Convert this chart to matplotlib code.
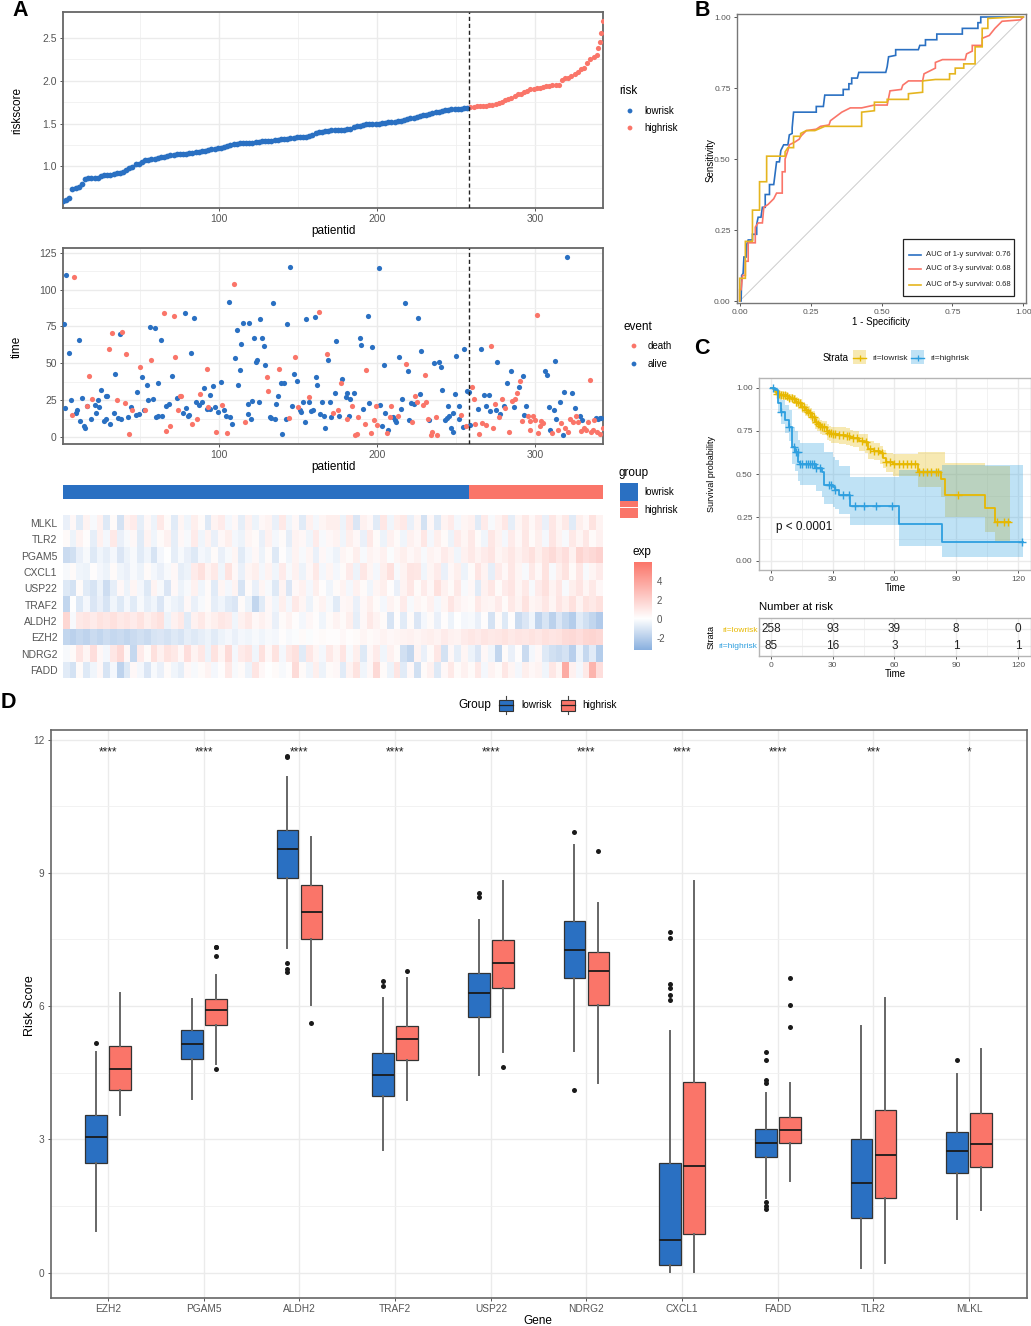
#!/usr/bin/env python3
"""Risk model figure: risk curve, survival scatter, heatmap, ROC, KM and gene boxplots."""

import matplotlib
matplotlib.use("Agg")
import matplotlib.pyplot as plt
import numpy as np
from matplotlib.colors import LinearSegmentedColormap
from matplotlib.patches import Rectangle

plt.rcParams['font.family'] = ['Liberation Sans', 'DejaVu Sans']
plt.rcParams['axes.unicode_minus'] = False

BLUE = '#2A70C2'
SALMON = '#FA7569'
KM_YELLOW = '#E7B800'
KM_BLUE = '#2E9FDF'
TICK_GRAY = '#555555'
W, H = 1031, 1326

N_LOW, N_HIGH = 258, 85

# Panel A, risk score read every second patient (patients 1, 3, 5 ... 335), then the last stretch
RISK_SCORE = [
    .60, .61, .63, .74, .745, .76, .80, .855, .86, .86,
    .87, .87, .885, .895, .90, .905, .91, .92, .92, .93,
    .96, .98, .99, 1.03, 1.03, 1.05, 1.08, 1.08, 1.085, 1.09,
    1.10, 1.105, 1.11, 1.12, 1.13, 1.135, 1.14, 1.145, 1.15, 1.15,
    1.155, 1.16, 1.165, 1.17, 1.175, 1.18, 1.19, 1.20, 1.205, 1.21,
    1.22, 1.23, 1.24, 1.25, 1.26, 1.265, 1.27, 1.27, 1.27, 1.275,
    1.275, 1.28, 1.29, 1.295, 1.30, 1.30, 1.30, 1.305, 1.31, 1.315,
    1.32, 1.325, 1.33, 1.335, 1.34, 1.34, 1.345, 1.345, 1.35, 1.37,
    1.39, 1.40, 1.405, 1.41, 1.415, 1.42, 1.425, 1.43, 1.43, 1.43,
    1.435, 1.44, 1.46, 1.47, 1.475, 1.485, 1.49, 1.495, 1.495, 1.50,
    1.50, 1.505, 1.51, 1.515, 1.52, 1.52, 1.525, 1.53, 1.54, 1.55,
    1.56, 1.57, 1.58, 1.59, 1.60, 1.605, 1.615, 1.62, 1.63, 1.64,
    1.65, 1.655, 1.66, 1.665, 1.665, 1.67, 1.675, 1.68, 1.685, 1.69,
    1.695, 1.70, 1.70, 1.705, 1.71, 1.715, 1.72, 1.73, 1.74, 1.75,
    1.78, 1.79, 1.80, 1.82, 1.84, 1.85, 1.87, 1.885, 1.90, 1.905,
    1.91, 1.92, 1.93, 1.94, 1.94, 1.945, 1.95, 1.95, 2.01, 2.03,
    2.03, 2.05, 2.08, 2.10, 2.13, 2.15, 2.21, 2.25,
    2.28, 2.30, 2.38, 2.45, 2.55, 2.69,
]
RISK_TOP_IDS = [337, 339, 340, 341, 342, 343]

# Panel A, survival scatter
ALIVE_ID = [
    1.4, 2, 3, 5, 6, 9, 10, 11, 12, 13, 14, 15, 16, 19, 21, 22, 23, 24, 25, 27, 28, 28, 29, 31, 33,
    34, 36, 37, 38, 42, 44, 47, 48, 49, 51, 52, 54, 55, 56, 58, 59, 60, 61, 61, 63, 64, 66.5, 68, 70,
    73, 77, 78, 79, 80, 81, 82, 84, 85, 87, 89, 90, 92, 94, 94, 96, 97, 99, 101, 103, 104, 106, 107,
    108, 110, 111, 112, 113, 114, 115, 118, 118, 119, 120, 121, 122, 123, 124, 125, 126, 127, 128, 129,
    132, 133, 134, 135.5, 136, 137, 139, 140, 141, 142, 143, 145, 146, 147, 149, 151, 152, 153, 154,
    155, 156.5, 158, 159.5, 160.5, 161, 162, 165, 164, 166, 167, 169, 170, 171, 173, 174, 176, 178,
    180, 181, 182, 183, 185, 189, 190, 191, 194, 195, 197, 202, 201, 203, 204, 205, 207, 210, 211, 212,
    214, 215, 216, 217.5, 219.5, 220, 221.5, 223, 226, 227, 228, 233, 236, 239, 240.5, 241, 243, 244,
    245, 245.5, 247, 248, 248, 249, 250, 251.5, 252, 254.5, 255, 257, 258, 259, 264, 265.5, 267.5, 269,
    270.5, 271.5, 275.5, 276, 278, 280, 282, 285, 286.5, 289.5, 292.5, 293, 294.5, 306.5, 307.5, 308.5,
    309.5, 312, 312.5, 313.5, 315.5, 317.5, 318.5, 320, 323.5, 325, 328.5, 330, 338.5, 340, 341, 342,
]
ALIVE_TIME = [
    76.8, 19.7, 110, 57, 25, 16, 18.5, 66, 11, 26.5, 7.7, 6, 21, 12, 22, 16, 25, 20, 32, 11, 27.5, 12.5, 27.5, 9, 16,
    43, 13, 70, 12, 13.5, 20, 15, 30.5, 15.5, 41, 18.5, 35, 25, 74.5, 26, 74, 13.5, 36.5, 14, 65.5, 14, 21, 22.5, 41.5,
    26.5, 16, 84, 19.7, 14, 15, 57, 80.5, 23.5, 22, 23.5, 33, 19, 19, 28.5, 34.5, 20, 17, 37.5, 18, 14, 91.5, 13.5,
    9, 53.6, 72.5, 35, 45.5, 63, 77, 22.5, 15.5, 77, 12, 24.3, 67, 50.7, 52, 23.5, 80, 67, 61.6, 48.5,
    13.5, 13, 91, 12.5, 22.5, 27.6, 36.5, 2, 36.5, 12.5, 76.8, 115.5, 21, 43, 38, 18, 17, 23.5, 10,
    80, 24, 17.5, 18.5, 81.5, 40.5, 35, 23.5, 15.5, 14, 6, 52, 24, 13.5, 30, 64.8, 14, 39,
    27, 30, 14, 25.4, 29.7, 67, 62.7, 19, 82, 23.3, 60.7, 22, 114.4, 7.7, 48.5, 16.5, 4.5, 13.4, 11.8, 10.4,
    54, 19, 26, 90.8, 44.8, 11.3, 23, 22.6, 81, 28.8, 58, 11.8, 50, 51, 47.3, 31.7, 11.8, 13,
    21.3, 14, 6, 3.4, 16.5, 28.8, 54.8, 12.2, 21.3, 6.8, 60, 31.5, 30.5, 8, 19, 59.6, 28.5, 20.8,
    28.5, 17.6, 18.6, 51, 15.8, 21.3, 36.5, 44.8, 20, 33.7, 41.2, 15, 21.3, 44.8, 41.9, 20,
    5, 18.6, 51.6, 12.5, 23.8, 1.4, 30.6, 122.3, 30.1, 19.7, 14, 11.3, 13, 12.2, 12.6, 13,
]
DEATH_ID = [
    7, 8, 16.5, 17.5, 19.5, 30, 32, 35, 38.5, 40, 41, 42.5, 45, 50, 53, 57, 65, 66, 69, 71, 72, 74, 75, 76,
    83, 86, 88, 92, 93, 98, 102, 105, 109, 116, 130, 131, 138, 144, 148, 150, 157, 163, 168, 172, 175, 177,
    181, 184, 186, 187, 188, 192, 193, 196, 198, 199.5, 200, 206, 208, 209, 213, 218, 222, 224, 225, 229,
    230, 231, 232, 234, 235, 237, 238, 253, 256, 260, 261, 262, 264.5, 266.5, 269, 272, 273.5, 274.5, 277,
    279, 281, 283.5, 285.5, 287.5, 288.5, 290.5, 291.5, 295.5, 296.5, 297, 298.5, 300, 301, 302, 303, 304,
    305, 310.5, 314.5, 316.5, 319, 321, 322, 324, 326, 327, 329, 331, 332, 333.5, 334.5, 335.5, 336.5, 337.5,
    339, 341, 343,
]
DEATH_TIME = [
    15, 108.7, 20.8, 41.2, 26, 59.6, 70.4, 25, 71, 23, 56.4, 1.8, 18, 47.3, 18.3, 52, 84.2, 3.9, 7.7, 82, 54.3, 18.6, 27.9, 27.6,
    9, 12.5, 28.8, 46.4, 20.2, 3.6, 22, 2.5, 104, 10.2, 40.8, 31.3, 46.4, 12.9, 54, 20.2, 27, 84.7, 56.4, 16.3, 18.6, 36.5,
    12.5, 21.3, 1.4, 2, 13.8, 8.8, 45.7, 3, 11.8, 21.3, 8.2, 2.5, 13.8, 21.3, 14.5, 49.4, 10.2, 28, 23.8, 22,
    42, 23.5, 12.2, 1.4, 3.6, 13.8, 1.4, 15, 7.2, 33.7, 25.4, 8.8, 1.8, 9.7, 8.2, 61.6, 6.3, 22.4, 13.4,
    25.4, 19.7, 3.6, 24.5, 25.4, 30.1, 38, 10.6, 14.5, 5, 10.6, 14, 11.8, 83, 2.5, 7.7, 10.6,
    9.3, 3, 4.5, 9.3, 6, 3.6, 12.5, 10.2, 14, 10.2, 4, 6, 4.5, 10.2, 38.5, 3.6, 4.5, 11.8,
    3.6, 1.8, 6,
]

# Panel A, heatmap, one reading per column (about 4 patients wide)
HEAT_GENES = ['MLKL', 'TLR2', 'PGAM5', 'CXCL1', 'USP22', 'TRAF2', 'ALDH2', 'EZH2', 'NDRG2', 'FADD']
MLKL = [
    -.6, .3, -.8, .5, -.2, .6, -.9, .2, -1.2, .6,
    .8, -.7, .3, -.5, .9, .2, -.8, .4, -.4, .7,
    .2, -.9, .5, .8, -.3, .3, -.7, .6, -.5, .3,
    .5, -.6, .9, -.4, .3, -.8, .6, -.3, .4, .7,
    .7, -.5, .9, -1.0, .6, .3, -.8, 1.0, -.4, .7,
    .9, -.6, .4, -1.2, .3, -.9, .5, .8, -.3, .4,
    .6, -.8, .8, -.2, .5, 1.0, -.7, .4, .9, .3,
    .8, -.6, 1.0, .4, .9, -.8, .7, .3, 1.2, .5,
]
TLR2 = [
    .2, -.5, .5, .1, -.7, .6, -.3, .9, -.6, -.2,
    .3, -.8, .5, -.4, .2, .6, -.7, .3, -.2, .8,
    -.4, .5, -.6, .3, .7, -.3, -.5, .4, .2, -.6,
    .6, -.3, .2, -.7, .5, .3, -.4, .8, -.2, .3,
    .5, -.4, .7, .3, -.6, .9, .2, -.5, .6, .2,
    -.4, .6, .3, 1.0, -.3, .7, .2, -.5, .8, .4,
    .9, .2, -.4, 1.0, .5, -.3, .8, .3, 1.0, .2,
    .7, -.3, 1.1, .5, -.2, .9, .4, 1.0, .2, .6,
]
PGAM5 = [
    -1.5, -1.3, -.6, -.2, -.9, -.4, -.7, -.3, -1.0, -.5,
    -.2, -.8, -.4, -1.1, -.3, .0, -.7, -.2, -.6, -.9,
    -.3, -.5, .2, -.6, -.2, .4, -.8, -.3, .3, -.5,
    .2, -.9, .1, -.4, .5, -.2, .4, -.6, .3, -.2,
    -.5, .4, .2, .7, -.2, .5, .3, .6, -.1, .4,
    .7, .3, .6, -.2, .5, .3, .8, .5, -.4, .6,
    .9, .5, .8, 1.1, .4, .7, 1.0, .6, .9, 1.3,
    .7, 1.2, 1.5, 1.0, 1.4, .6, 1.8, 1.4, 1.6, 1.9,
]
CXCL1 = [
    -.2, .2, -.4, -.5, .1, -.3, -.5, .2, -.4, -.6,
    -.2, -.5, .2, -.3, -.6, -.2, .3, -.7, -.5, .8,
    1.3, .5, .9, -.4, 1.2, .3, -.6, .4, .7, -.3,
    .5, -.4, .8, -.2, .6, -.5, .3, .9, -.3, .4,
    -.3, .2, .8, -.5, 1.0, .4, -.3, .7, 1.3, -.2,
    .5, 1.1, 1.0, -.4, .4, .8, -.6, .3, .7, -.5,
    .2, 1.1, .5, -.7, .8, .3, 1.0, .4, -.2, .9,
    .3, 1.2, -.2, .7, 1.2, .2, 1.0, -.2, .4, .8,
]
USP22 = [
    -.9, -1.2, .2, -.8, -1.1, -.5, -1.4, -.7, .3, -.5,
    .4, -.3, -.9, .5, -.2, -1.0, .3, -.5, -.2, .6,
    -.4, .2, -.8, .4, -.3, .5, -1.1, .2, -.6, .4,
    -.2, -.9, .5, -1.0, .3, .6, -.3, .7, .1, -.4,
    .2, .5, -.3, .6, .2, -.4, .4, .7, .1, -.6,
    .5, 1.0, .2, .8, .3, 1.3, .6, .2, .9, -.2,
    .3, -.8, .6, 1.0, .2, .8, 1.1, .4, .9, -.2,
    .8, 1.3, .5, 1.0, -.2, .7, 1.1, .4, .9, .3,
]
TRAF2 = [
    -1.7, .0, -.9, -.3, -1.0, -.6, -1.1, -.4, -.9, -.3,
    -.8, -.2, -.7, -.4, -1.0, -.2, -.5, -.7, .3, -.6,
    -.2, .2, -.7, -.4, -.8, -1.0, .2, -.5, -1.7, -.8,
    .3, -.4, .7, -.3, .9, .4, -.5, .2, .5, -.2,
    -.8, .3, .4, -.6, .3, .7, .2, -.3, .5, .2,
    .8, -.2, .4, .2, .6, -.3, .4, 1.1, .6, .3,
    .2, .9, .5, .4, .8, .2, .9, .5, 1.2, .4,
    .6, 1.0, .4, 1.1, .7, 1.3, .5, 1.2, .9, 1.3,
]
ALDH2 = [
    1.7, -.2, .9, 1.1, .8, 1.2, 1.0, 1.3, .9, 1.1,
    .8, 1.2, .7, 1.0, 1.3, -.5, .6, .9, -.8, .6,
    .9, .4, .7, 1.0, .8, -.4, .6, .9, .3, .6,
    .3, -.6, .2, .5, .1, -.3, .3, .1, -.4, .2,
    .5, .2, .7, -.7, .3, .9, .5, .2, -1.1, .1,
    -.8, .2, -1.0, -.3, .2, -.6, .1, -.5, .0, -.3,
    -.2, -.6, .1, -1.2, .2, -.9, .1, -1.5, -1.0, -.4,
    -1.8, -1.1, -1.9, -1.0, -1.6, -2.1, -.8, -1.3, -1.7, -2.2,
]
EZH2 = [
    -1.7, -1.9, -1.6, -1.8, -1.5, -1.7, -1.4, -1.6, -1.5, -1.7,
    -1.5, -1.3, -1.5, -1.1, -1.0, -1.2, -.9, -1.1, -.7, -.9,
    -.7, -.5, -.8, -.5, -.3, -.6, -.3, -.4, -.2, -.4,
    -.2, -.3, .1, -.2, -.1, .2, -.1, .1, .2, .1,
    .1, .3, .1, .2, .4, .2, .3, .5, .3, .4,
    .5, .6, .4, .6, .7, .5, .8, .6, .5, .8,
    1.0, .8, 1.1, .9, 1.0, 1.2, .9, 1.1, 1.0, 1.2,
    1.0, 1.3, 1.1, 1.2, 1.5, 1.6, 1.4, 1.7, 1.8, 1.6,
]
NDRG2 = [
    -.2, .2, 1.1, .4, 1.4, .3, -.3, 1.0, 1.6, .3,
    -1.6, .8, .2, 1.3, .6, 1.2, .9, .3, 1.4, .5,
    1.0, -.5, 1.2, .4, 1.5, -.3, .8, 1.1, -.4, 1.3,
    .3, 1.2, -.3, .9, 1.3, -.8, 1.0, .4, -.3, .9,
    .4, 1.1, -.2, .7, -.9, .3, .8, -.4, .6, .2,
    -1.3, -1.7, .5, -.6, .2, 1.0, -1.2, .3, -.7, .4,
    -.5, -1.0, .3, -.4, -1.7, .2, -.6, .1, -1.5, -.3,
    .3, -.9, -1.3, -1.5, -1.2, -2.0, -.5, -1.6, -.8, -2.1,
]
FADD = [
    -.8, -1.2, .2, -.9, -.4, .3, -1.1, -.3, -1.8, -.9,
    .3, -.3, -1.0, -.2, -.6, .2, -.4, -.7, .3, -.2,
    .2, .5, -.3, .1, .9, -.2, .2, -.5, 1.1, .3,
    .0, .2, -.2, .1, 1.5, .2, -.4, .7, -.5, .2,
    .3, -.8, .5, 1.2, -.4, .3, 1.6, .2, -.5, 1.1,
    -.8, .3, -1.3, .2, .6, -.9, .3, .9, .2, .6,
    .2, .9, -.3, .5, .2, 1.0, .4, -.3, .7, .3,
    .5, -.4, 1.0, .4, 3.6, .6, -.3, .9, 3.2, 1.4,
]

# Panel B, ROC curves
ROC1_FPR = [0, .005, .007, .012, .015, .023, .025, .03, .045, .045, .06, .06, .065, .075, .08, .09, .09, .105, .105, .12,
            .125, .13, .14, .145, .155, .17, .175, .185, .185, .19, .27, .27, .295, .3, .365, .365, .385, .385, .395, .395,
            .415, .42, .515, .52, .525, .55, .55, .63, .635, .655, .655, .695, .695, .785, .785, .84, .84, .85, .85, 1]
ROC1_TPR = [0, 0, .09, .097, .155, .155, .2, .215, .215, .235, .235, .27, .295, .295, .33, .33, .375, .375, .41, .41,
            .45, .49, .49, .53, .55, .55, .585, .59, .61, .665, .665, .685, .685, .725, .725, .745, .745, .765, .765, .785,
            .785, .805, .805, .825, .86, .865, .885, .885, .9, .9, .92, .92, .94, .94, .96, .96, .98, .98, 1.0, 1.0]
ROC3_FPR = [0, 0, .005, .01, .02, .02, .03, .03, .055, .055, .065, .08, .085, .1, .12, .13, .15, .15, .16, .16,
            .17, .175, .195, .21, .215, .235, .27, .285, .315, .32, .34, .36, .39, .43, .475, .52, .53, .57, .575, .595,
            .645, .65, .67, .69, .69, .715, .795, .8, .82, .82, .855, .855, .88, .9, .925, .99, 1]
ROC3_TPR = [0, .04, .04, .09, .09, .14, .14, .205, .205, .26, .275, .275, .33, .34, .36, .38, .38, .455, .455, .5,
            .53, .55, .56, .57, .58, .6, .605, .615, .62, .635, .65, .665, .68, .68, .69, .69, .74, .745, .76, .775,
            .775, .8, .81, .82, .84, .85, .85, .87, .88, .9, .9, .925, .935, .96, .985, .99, 1]
ROC5_FPR = [0, 0, .02, .02, .045, .045, .07, .07, .095, .095, .16, .16, .17, .19, .19, .215, .215, .235, .265, .3,
            .43, .43, .475, .475, .52, .52, .595, .595, .645, .645, .69, .74, .74, .76, .76, .79, .79, .83, .83, .855,
            .855, .875, .875, .97, 1]
ROC5_TPR = [0, .08, .08, .21, .21, .32, .32, .42, .42, .51, .51, .525, .54, .54, .58, .58, .59, .6, .6, .615,
            .615, .665, .67, .7, .7, .71, .71, .73, .735, .775, .78, .78, .8, .8, .82, .82, .835, .835, .895, .895,
            .96, .96, .995, 1, 1]
ROC_LABELS = ['AUC of 1-y survival: 0.76', 'AUC of 3-y survival: 0.68', 'AUC of 5-y survival: 0.68']

# Panel C, Kaplan-Meier
LOW_T = [0, 1, 2, 3, 4.4, 6, 7.6, 9, 10.8, 12, 13.3, 15, 16.5, 18, 19, 20, 21.3, 22.5, 23.8, 25,
         27, 28, 29.4, 33, 36.7, 38.5, 40, 43, 45.6, 47.2, 50, 52.9, 54.5, 56, 59.4, 71.5, 82.8, 84.7, 104.2, 108.7, 116]
LOW_S = [1, .99, .973, .965, .958, .955, .95, .942, .934, .92, .909, .89, .871, .86, .852, .83, .803, .79, .78, .77,
         .75, .74, .73, .725, .722, .715, .707, .69, .684, .645, .635, .62, .595, .572, .557, .514, .472, .38, .304, .222, .222]
LOW_UP = [1, 1, .995, .985, .98, .975, .97, .965, .955, .945, .935, .92, .905, .895, .885, .865, .84, .825, .815, .805,
          .79, .78, .775, .77, .765, .755, .75, .735, .73, .69, .68, .665, .64, .625, .615, .63, .63, .563, .549, .549, .549]
LOW_LO = [1, .98, .955, .945, .935, .93, .925, .915, .905, .89, .875, .855, .835, .825, .815, .79, .76, .75, .735, .725,
          .70, .69, .68, .675, .67, .66, .655, .635, .625, .59, .58, .56, .535, .51, .49, .425, .37, .254, .168, .114, .106]
LOW_CENSOR = [3, 4, 5, 6, 7, 8, 9, 10, 11, 12, 13, 14, 15, 16, 17, 18, 19, 20, 21, 22, 23, 24, 25, 26, 27, 28, 29, 30, 31,
              33, 35, 37, 38, 40, 42, 44, 46, 48, 50, 52, 54, 56, 58, 60, 62, 64, 66, 68, 70, 72, 74, 76, 78, 80, 81,
              91, 110, 113, 115]
HIGH_T = [0, 2, 3.6, 4.7, 6.8, 8.9, 10.4, 11.6, 13.3, 14, 19.7, 22, 25, 25.7, 30, 31, 33, 38.3, 62, 83, 122.4]
HIGH_S = [1, .986, .91, .857, .813, .775, .659, .63, .572, .56, .557, .538, .514, .437, .428, .408, .38, .318, .21, .11, .11]
HIGH_UP = [1, 1, .96, .93, .90, .87, .775, .75, .70, .682, .682, .682, .682, .626, .60, .58, .55, .482, .524, .553, .553]
HIGH_LO = [1, .96, .86, .79, .74, .69, .56, .52, .46, .44, .44, .40, .37, .33, .31, .30, .27, .206, .087, .023, .023]
HIGH_CENSOR = [1, 5, 9, 11, 12, 13, 14, 15, 17, 18, 19, 20, 21, 22, 24, 28, 29, 31, 35, 38, 41, 45, 51, 59, 122]
RISK_TIMES = [0, 30, 60, 90, 120]
RISK_LOW = [258, 93, 39, 8, 0]
RISK_HIGH = [85, 16, 3, 1, 1]

# Panel D, box statistics per gene
GENES = ['EZH2', 'PGAM5', 'ALDH2', 'TRAF2', 'USP22', 'NDRG2', 'CXCL1', 'FADD', 'TLR2', 'MLKL']
STARS = ['****', '****', '****', '****', '****', '****', '****', '****', '***', '*']
LOW_WHISLO = [.94, 3.91, 7.30, 2.76, 4.44, 5.00, .02, 1.67, .11, 1.20]
LOW_Q1 = [2.47, 4.81, 8.89, 3.98, 5.76, 6.64, .17, 2.60, 1.22, 2.25]
LOW_MED = [3.06, 5.14, 9.54, 4.45, 6.29, 7.26, .74, 2.92, 2.02, 2.74]
LOW_Q3 = [3.55, 5.46, 9.96, 4.94, 6.75, 7.92, 2.46, 3.24, 3.00, 3.16]
LOW_WHISHI = [4.97, 6.17, 11.15, 6.19, 7.94, 9.63, 5.44, 4.05, 5.55, 4.48]
LOW_FLIERS = [[5.17], [], [11.61, 11.63, 6.96, 6.83, 6.77], [6.56, 6.45], [8.55, 8.46], [9.93, 4.11],
              [7.66, 7.53, 6.49, 6.40, 6.25, 6.14], [4.96, 4.78, 4.33, 4.27, 1.59, 1.50, 1.44], [], [4.78]]
HIGH_WHISLO = [3.54, 4.69, 6.03, 3.89, 4.96, 4.26, .02, 2.07, .21, 1.42]
HIGH_Q1 = [4.11, 5.57, 7.52, 4.78, 6.41, 6.02, .87, 2.91, 1.69, 2.38]
HIGH_MED = [4.59, 5.92, 8.11, 5.25, 6.97, 6.80, 2.41, 3.21, 2.65, 2.89]
HIGH_Q3 = [5.10, 6.17, 8.72, 5.55, 7.49, 7.21, 4.29, 3.50, 3.67, 3.59]
HIGH_WHISHI = [6.29, 6.70, 9.81, 6.63, 8.82, 8.32, 8.82, 4.27, 6.19, 5.04]
HIGH_FLIERS = [[], [4.58, 7.13, 7.32, 7.34], [5.63], [6.80], [4.62], [9.50], [], [5.54, 6.02, 6.64], [], []]


def add_axes_px(left, top, right, bottom):
    return fig.add_axes([left / W, 1 - bottom / H, (right - left) / W, (bottom - top) / H])


def style_axes(ax, edge='#666666', lw=1.3, size=7.5):
    ax.set_axisbelow(True)
    for spine in ax.spines.values():
        spine.set_color(edge)
        spine.set_linewidth(lw)
    ax.tick_params(axis='both', which='major', colors=TICK_GRAY, labelsize=size, length=2.5, width=.7, pad=2)
    ax.tick_params(axis='both', which='minor', length=0)


def add_grid(ax, xmajor, xminor, ymajor, yminor):
    ax.set_xticks(xmajor)
    ax.set_xticks(xminor, minor=True)
    ax.set_yticks(ymajor)
    ax.set_yticks(yminor, minor=True)
    ax.grid(which='major', color='#EBEBEB', lw=1.0)
    ax.grid(which='minor', color='#F0F0F0', lw=.6)


fig = plt.figure(figsize=(W / 100, H / 100), dpi=100)
fig.patch.set_facecolor('white')

# overlay in pixel coordinates for legends and free labels
over = fig.add_axes([0, 0, 1, 1], zorder=5)
over.set_xlim(0, W)
over.set_ylim(H, 0)
over.axis('off')


def label(x, y, text, size=8.5, color='black', **kw):
    kw.setdefault('ha', 'center')
    kw.setdefault('va', 'center')
    over.text(x, y, text, fontsize=size, color=color, **kw)


for letter, x, y in [('A', 20, 10), ('B', 702, 10), ('C', 702, 348), ('D', 8, 703)]:
    label(x, y, letter, size=15.5, fontweight='bold')

# ---- panel A: risk score curve
score = np.array(RISK_SCORE)
ids = np.concatenate([np.arange(1, 336, 2), RISK_TOP_IDS])
ax1 = add_axes_px(63, 12, 603, 208)
style_axes(ax1)
add_grid(ax1, [100, 200, 300], [50, 150, 250], [1.0, 1.5, 2.0, 2.5], [.75, 1.25, 1.75, 2.25])
is_low = ids <= N_LOW
ax1.scatter(ids[~is_low], score[~is_low], s=14, color=SALMON, lw=0, zorder=3)
ax1.scatter(ids[is_low], score[is_low], s=17, color=BLUE, lw=0, zorder=3)
ax1.axvline(N_LOW, color='#222222', ls='--', lw=1, dashes=(3, 2), zorder=4)
ax1.set_xlim(1, 343)
ax1.set_ylim(.516, 2.80)
ax1.set_yticklabels(['1.0', '1.5', '2.0', '2.5'])
label(333, 231, 'patientid')
label(17, 110, 'riskscore', rotation=90)

label(628, 91, 'risk', size=8.5)
over.scatter([630, 630], [111, 128], s=12, color=[BLUE, SALMON], lw=0)
label(644, 111, 'lowrisk', size=7, ha='left')
label(644, 128, 'highrisk', size=7, ha='left')

# ---- panel A: survival scatter
ax2 = add_axes_px(63, 248, 603, 444)
style_axes(ax2)
add_grid(ax2, [100, 200, 300], [50, 150, 250], [0, 25, 50, 75, 100, 125], [12.5, 37.5, 62.5, 87.5, 112.5])
ax2.scatter(ALIVE_ID, ALIVE_TIME, s=14, color=BLUE, lw=0, zorder=3)
ax2.scatter(DEATH_ID, DEATH_TIME, s=14, color=SALMON, lw=0, zorder=3)
ax2.axvline(N_LOW, color='#222222', ls='--', lw=1, dashes=(3, 2), zorder=4)
ax2.set_xlim(1, 343)
ax2.set_ylim(-4.8, 128.2)
label(333, 467, 'patientid')
label(17, 347, 'time', rotation=90)

label(638, 327, 'event', size=8.5)
over.scatter([634, 634], [346, 364], s=12, color=[SALMON, BLUE], lw=0)
label(648, 346, 'death', size=7, ha='left')
label(648, 364, 'alive', size=7, ha='left')

# ---- panel A: group bar and heatmap
ax_bar = add_axes_px(63, 485, 603, 499)
ax_bar.barh([0], [N_LOW], left=[0], height=1, color=BLUE)
ax_bar.barh([0], [N_HIGH], left=[N_LOW], height=1, color=SALMON)
ax_bar.set_xlim(0, N_LOW + N_HIGH)
ax_bar.set_ylim(-.5, .5)
ax_bar.axis('off')

heat = np.array([MLKL, TLR2, PGAM5, CXCL1, USP22, TRAF2, ALDH2, EZH2, NDRG2, FADD])
heat_cmap = LinearSegmentedColormap.from_list('exp', ['#2A70C6', '#FFFFFF', '#FB7468'])
ax_heat = add_axes_px(63, 515, 603, 678)
ax_heat.imshow(heat, aspect='auto', cmap=heat_cmap, vmin=-6, vmax=6, interpolation='nearest')
ax_heat.set_xticks([])
ax_heat.set_yticks(range(len(HEAT_GENES)))
ax_heat.set_yticklabels(HEAT_GENES)
ax_heat.tick_params(axis='y', length=0, labelsize=7.5, colors=TICK_GRAY, pad=4)
for spine in ax_heat.spines.values():
    spine.set_visible(False)

label(634, 473, 'group', size=8.5)
over.add_patch(Rectangle((620, 483), 18, 17.5, color=BLUE, lw=0))
over.add_patch(Rectangle((620, 500.5), 18, 17.5, color=SALMON, lw=0))
over.plot([620, 638], [507, 507], color='white', lw=.7)
label(644, 492, 'lowrisk', size=7, ha='left')
label(644, 510, 'highrisk', size=7, ha='left')

label(642, 552, 'exp', size=8.5)
ax_cbar = add_axes_px(633.5, 561.7, 651, 650)
ax_cbar.imshow(np.linspace(6, -3.3, 200).reshape(-1, 1), aspect='auto', cmap=heat_cmap, vmin=-6, vmax=6,
               extent=[0, 1, -3.3, 6])
ax_cbar.set_xticks([])
ax_cbar.yaxis.tick_right()
ax_cbar.set_yticks([-2, 0, 2, 4])
ax_cbar.tick_params(axis='y', length=0, labelsize=7, colors=TICK_GRAY, pad=4)
for spine in ax_cbar.spines.values():
    spine.set_visible(False)

# ---- panel B: ROC
ax_roc = add_axes_px(737, 14, 1026, 303)
style_axes(ax_roc, edge='#777777', lw=1.0, size=6)
ax_roc.plot([0, 1], [0, 1], color='#CCCCCC', lw=.7)
roc_lines = [(ROC1_FPR, ROC1_TPR, BLUE), (ROC3_FPR, ROC3_TPR, SALMON), (ROC5_FPR, ROC5_TPR, '#E5B51F')]
for fpr, tpr, color in roc_lines:
    ax_roc.plot(fpr, tpr, color=color, lw=1.2, solid_joinstyle='miter')
ax_roc.set_xlim(-.0095, 1.0095)
ax_roc.set_ylim(-.007, 1.0106)
ax_roc.set_xticks([0, .25, .5, .75, 1])
ax_roc.set_yticks([0, .25, .5, .75, 1])
ax_roc.set_xticklabels(['0.00', '0.25', '0.50', '0.75', '1.00'])
ax_roc.set_yticklabels(['0.00', '0.25', '0.50', '0.75', '1.00'])
label(881, 322, '1 - Specificity', size=7)
label(711, 160, 'Sensitivity', size=7, rotation=90)
over.add_patch(Rectangle((902.7, 239), 111.3, 57, fc='white', ec='#222222', lw=.9))
for y, (_, _, color), text in zip([255, 269, 285], roc_lines, ROC_LABELS):
    over.plot([909, 920.7], [y, y], color=color, lw=1.2)
    label(926, y, text, size=5.5, ha='left', color='#222222')

# ---- panel C: Kaplan-Meier
ax_km = add_axes_px(759, 378, 1030.7, 570)
style_axes(ax_km, edge='#B5B5B5', lw=1.0, size=6)
add_grid(ax_km, RISK_TIMES, [15, 45, 75, 105], [0, .25, .5, .75, 1], [.125, .375, .625, .875])
ax_km.fill_between(LOW_T, LOW_LO, LOW_UP, step='post', color=KM_YELLOW, alpha=.3, lw=0, zorder=2)
ax_km.fill_between(HIGH_T, HIGH_LO, HIGH_UP, step='post', color=KM_BLUE, alpha=.3, lw=0, zorder=2)
for times, surv, censor, color in [(LOW_T, LOW_S, LOW_CENSOR, KM_YELLOW), (HIGH_T, HIGH_S, HIGH_CENSOR, KM_BLUE)]:
    ax_km.step(times, surv, where='post', color=color, lw=1.3, zorder=3)
    at = np.searchsorted(times, censor, side='right') - 1
    ax_km.plot(censor, np.array(surv)[at], '+', color=color, ms=6, mew=1.0, zorder=3)
ax_km.text(2.4, .195, 'p < 0.0001', fontsize=8.5, va='center', color='#111111')
ax_km.set_xlim(-5.8, 126.2)
ax_km.set_ylim(-.054, 1.056)
ax_km.set_yticklabels(['0.00', '0.25', '0.50', '0.75', '1.00'])
label(895, 588, 'Time', size=7)
label(712, 474, 'Survival probability', size=6.5, rotation=90)

label(836, 358, 'Strata', size=7)
for x0, color, text in [(853, KM_YELLOW, 'ri=lowrisk'), (911, KM_BLUE, 'ri=highrisk')]:
    over.add_patch(Rectangle((x0, 350), 13, 14, color=color, alpha=.3, lw=0))
    over.plot([x0, x0 + 13], [358, 358], color=color, lw=1)
    over.plot([x0 + 6.5], [358], '+', color=color, ms=5, mew=.9)
    label(x0 + 19, 358, text, size=6, ha='left', color='#222222')

# ---- panel C: number at risk table
ax_tab = add_axes_px(759, 618, 1030.7, 656)
style_axes(ax_tab, edge='#B5B5B5', lw=1.0, size=6)
add_grid(ax_tab, RISK_TIMES, [15, 45, 75, 105], [1, 2], [])
ax_tab.set_xlim(-5.8, 126.2)
ax_tab.set_ylim(.41, 2.65)
ax_tab.set_yticklabels(['ri=highrisk', 'ri=lowrisk'], fontsize=6)
ax_tab.get_yticklabels()[0].set_color(KM_BLUE)
ax_tab.get_yticklabels()[1].set_color(KM_YELLOW)
ax_tab.tick_params(axis='y', length=0, pad=1)
for t, low_n, high_n in zip(RISK_TIMES, RISK_LOW, RISK_HIGH):
    ax_tab.text(t, 2, str(low_n), ha='center', va='center', fontsize=8.5, color='#222222')
    ax_tab.text(t, 1, str(high_n), ha='center', va='center', fontsize=8.5, color='#222222')
label(759, 607, 'Number at risk', size=8.2, ha='left')
label(711, 637, 'Strata', size=6.5, rotation=90)
label(895, 674, 'Time', size=7)

# ---- panel D: boxplots
ax_box = add_axes_px(50.7, 729.8, 1026.5, 1297.7)
style_axes(ax_box, edge='#666666', lw=1.2, size=7.3)
pos = np.arange(1, len(GENES) + 1)
add_grid(ax_box, pos, [], [0, 3, 6, 9, 12], [1.5, 4.5, 7.5, 10.5])
series = [
    (-.125, BLUE, LOW_WHISLO, LOW_Q1, LOW_MED, LOW_Q3, LOW_WHISHI, LOW_FLIERS),
    (.125, SALMON, HIGH_WHISLO, HIGH_Q1, HIGH_MED, HIGH_Q3, HIGH_WHISHI, HIGH_FLIERS),
]
for shift, color, lo, q1, med, q3, hi, fliers in series:
    stats = [{'whislo': a, 'q1': b, 'med': c, 'q3': d, 'whishi': e, 'fliers': f}
             for a, b, c, d, e, f in zip(lo, q1, med, q3, hi, fliers)]
    ax_box.bxp(stats, positions=pos + shift, widths=.227, patch_artist=True, showcaps=False, manage_ticks=False,
               boxprops=dict(facecolor=color, edgecolor='#333333', lw=.9),
               medianprops=dict(color='#1A1A1A', lw=1.3),
               whiskerprops=dict(color='#666666', lw=1.4),
               flierprops=dict(marker='o', ms=3.6, mfc='#1A1A1A', mec='#1A1A1A', mew=0))
for p, star in zip(pos, STARS):
    ax_box.text(p, 11.72, star, ha='center', va='center', fontsize=8.5, color='#222222')
ax_box.set_xlim(.4, 10.6)
ax_box.set_ylim(-.565, 12.22)
ax_box.set_xticklabels(GENES)
label(538, 1321, 'Gene', size=8.5)
label(30, 1006, 'Risk Score', size=9, rotation=90)

label(475, 705, 'Group', size=8.5)
for x0, color, text in [(499, BLUE, 'lowrisk'), (560.7, SALMON, 'highrisk')]:
    over.plot([x0 + 7, x0 + 7], [696, 714], color='#444444', lw=.8)
    over.add_patch(Rectangle((x0, 699.5), 14, 11, fc=color, ec='#333333', lw=.8, zorder=3))
    over.plot([x0, x0 + 14], [705, 705], color='#222222', lw=.9, zorder=4)
    label(x0 + 22, 705, text, size=7.2, ha='left')

fig.savefig('out.png', dpi=100, facecolor='white')
